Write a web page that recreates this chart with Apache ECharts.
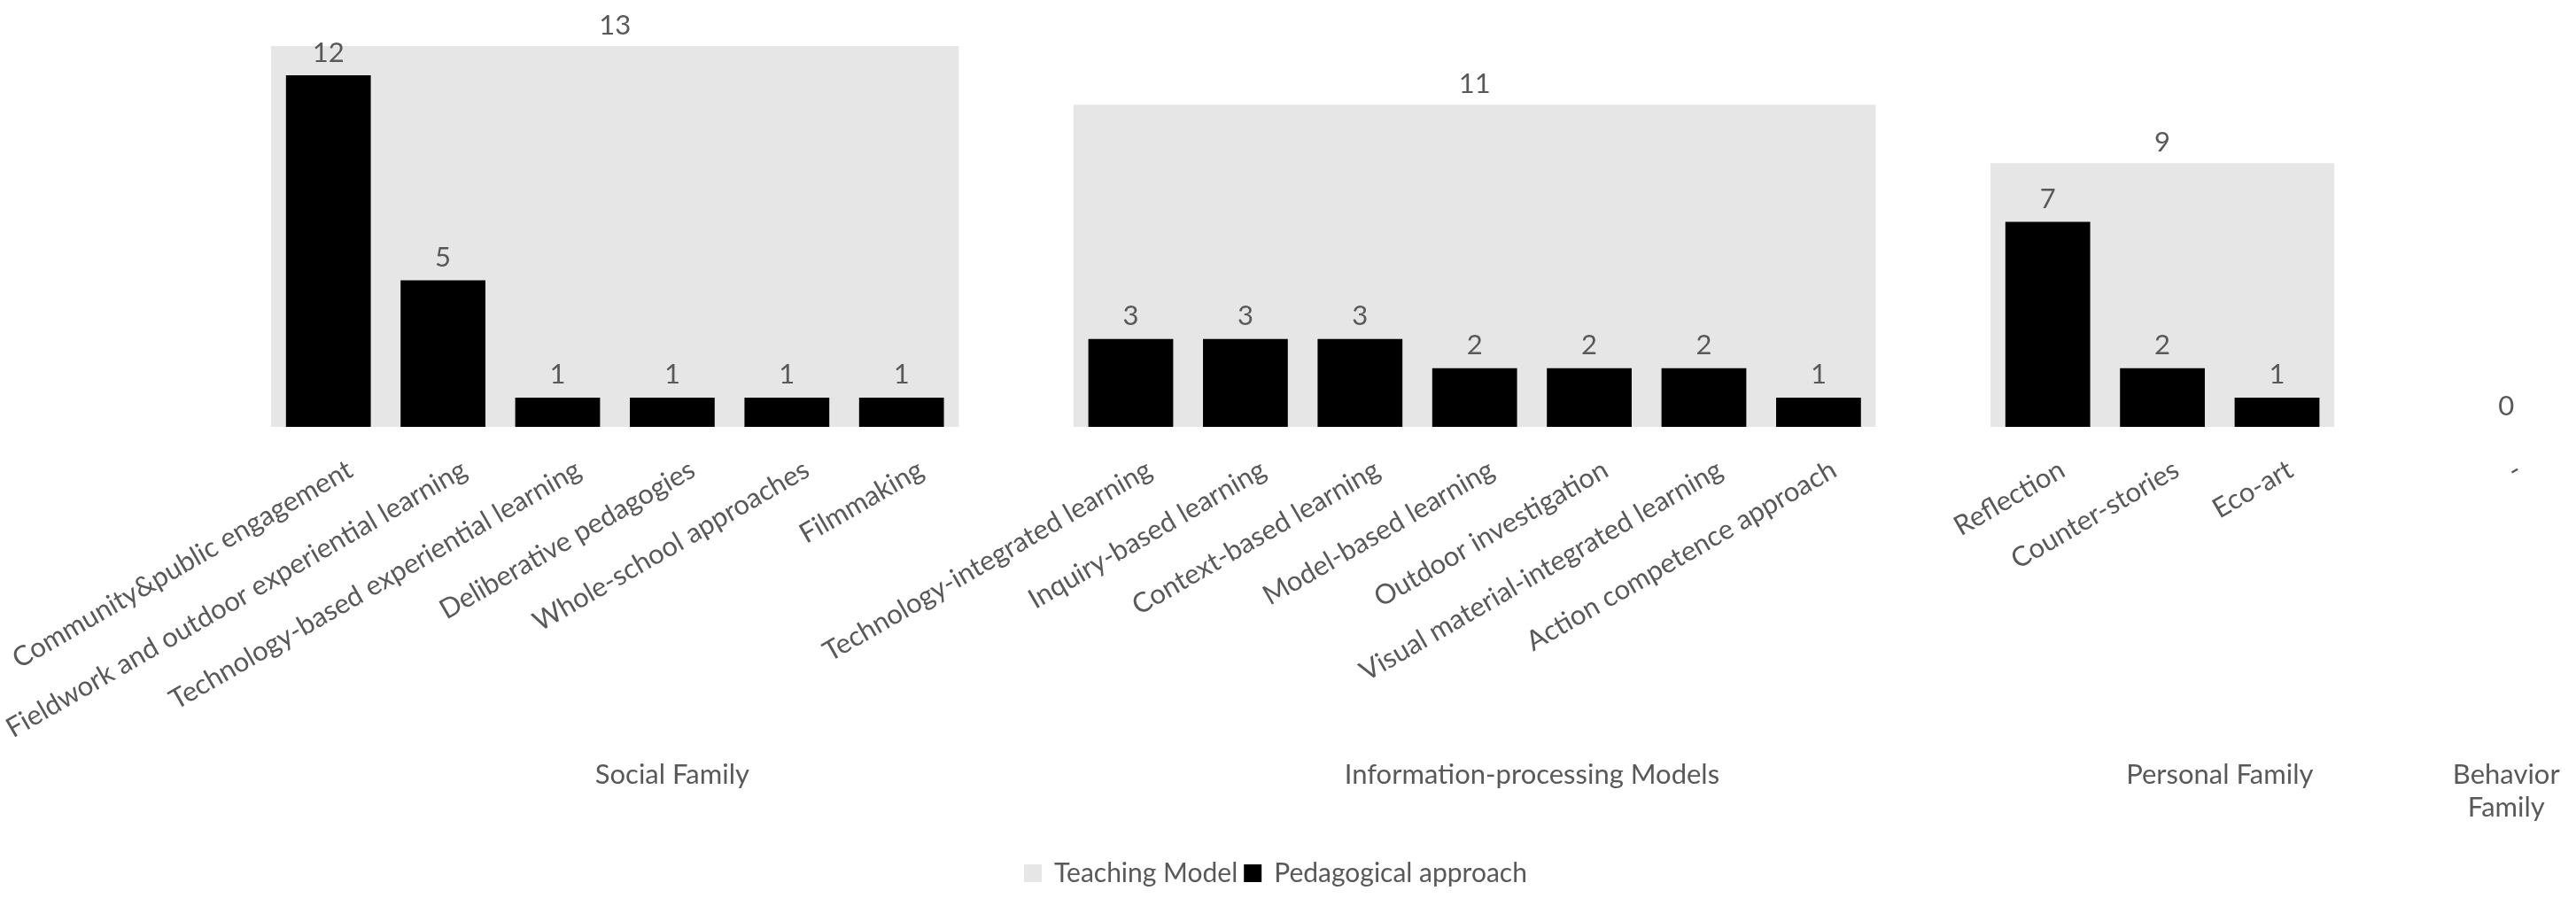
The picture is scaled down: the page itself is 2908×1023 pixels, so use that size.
<!DOCTYPE html>
<html lang="en">
<head>
<meta charset="UTF-8">
<title>Teaching models and pedagogical approaches</title>
<script src="https://cdn.jsdelivr.net/npm/echarts/dist/echarts.min.js"></script>
<style>
    html, body { margin: 0; padding: 0; background: #fff; }
    #chart { width: 2908px; height: 1023px; }
</style>
</head>
<body>
<div id="chart"></div>
<script>
    // families (teaching models) and their totals
    var families = ['Social Family', 'Information-processing Models', 'Personal Family', 'Behavior\nFamily'];
    var familyTotals = [13, 11, 9, 0];

    // pedagogical approaches inside each family
    var approachNames = [
        ['Community&public engagement', 'Fieldwork and outdoor experiential learning', 'Technology-based experiential learning',
         'Deliberative pedagogies', 'Whole-school approaches', 'Filmmaking'],
        ['Technology-integrated learning', 'Inquiry-based learning', 'Context-based learning', 'Model-based learning',
         'Outdoor investigation', 'Visual material-integrated learning', 'Action competence approach'],
        ['Reflection', 'Counter-stories', 'Eco-art'],
        ['-']
    ];
    var approachCounts = [
        [12, 5, 1, 1, 1, 1],
        [3, 3, 3, 2, 2, 2, 1],
        [7, 2, 1],
        ['-']
    ];

    var textGray = '#595959';
    var fontName = 'Lato';
    var fontSize = 31;

    // flatten into one category axis, with an empty slot after each family
    var categories = [], counts = [], blocks = [], familyCenters = [];
    var pos = 0;
    for (var f = 0; f < families.length; f++) {
        var n = approachNames[f].length;
        blocks.push([pos, pos + n, familyTotals[f]]);
        for (var i = 0; i < n; i++) {
            categories.push(approachNames[f][i]);
            counts.push(approachCounts[f][i]);
        }
        var span = n;
        if (f < families.length - 1) {
            categories.push('');
            counts.push('-');
            span++;
        }
        familyCenters.push(pos + span / 2);
        pos += span;
    }

    var chart = echarts.init(document.getElementById('chart'));

    var plotLeft = 306, plotWidth = 2588;

    var option = {
        animation: false,
        textStyle: { fontFamily: fontName },
        grid: [
            { left: plotLeft, width: plotWidth, top: 52, bottom: 541 },
            // same grid nudged right, only carries the slanted labels
            { left: plotLeft + 22, width: plotWidth, top: 52, bottom: 541 }
        ],
        xAxis: [
            {
                type: 'category',
                gridIndex: 0,
                data: categories,
                axisLine: { show: false },
                axisTick: { show: false },
                axisLabel: { show: false }
            },
            {
                // hidden value axis used for the family blocks and family names
                type: 'value',
                gridIndex: 0,
                position: 'bottom',
                min: 0,
                max: categories.length,
                interval: 0.5,
                axisLine: { show: false },
                axisTick: { show: false },
                splitLine: { show: false },
                axisLabel: {
                    margin: 374, color: textGray, fontFamily: fontName, fontSize: fontSize, lineHeight: 37,
                    formatter: function (v) {
                        var k = familyCenters.indexOf(v);
                        return k < 0 ? '' : families[k];
                    }
                }
            },
            {
                type: 'category',
                gridIndex: 1,
                data: categories,
                axisLine: { show: false },
                axisTick: { show: false },
                axisLabel: {
                    interval: 0, rotate: 30, margin: 46,
                    color: textGray, fontFamily: fontName, fontSize: fontSize
                }
            }
        ],
        yAxis: [
            { type: 'value', gridIndex: 0, min: 0, max: 13, show: false },
            { type: 'value', gridIndex: 1, min: 0, max: 13, show: false }
        ],
        legend: {
            left: 1151, top: 966,
            icon: 'rect', itemWidth: 20, itemHeight: 20, itemGap: 7,
            textStyle: { color: textGray, fontFamily: fontName, fontSize: 30, padding: [0, 0, 0, 9] },
            data: ['Teaching Model', 'Pedagogical approach']
        },
        series: [
            {
                name: 'Teaching Model',
                type: 'custom',
                xAxisIndex: 1,
                yAxisIndex: 0,
                z: 1,
                itemStyle: { color: '#E7E6E6' },
                encode: { x: [0, 1], y: 2 },
                data: blocks,
                renderItem: function (params, api) {
                    var tl = api.coord([api.value(0), api.value(2)]);
                    var br = api.coord([api.value(1), 0]);
                    return {
                        type: 'rect',
                        shape: { x: tl[0], y: tl[1], width: br[0] - tl[0], height: br[1] - tl[1] },
                        style: { fill: '#E7E6E6' },
                        textContent: {
                            style: { text: String(api.value(2)), fill: textGray, font: fontSize + 'px ' + fontName }
                        },
                        textConfig: { position: 'top', distance: 8 }
                    };
                }
            },
            {
                name: 'Pedagogical approach',
                type: 'bar',
                xAxisIndex: 0,
                yAxisIndex: 0,
                z: 2,
                barWidth: '74%',
                itemStyle: { color: '#000000' },
                label: {
                    show: true, position: 'top', distance: 10,
                    color: textGray, fontFamily: fontName, fontSize: fontSize
                },
                data: counts
            }
        ]
    };

    chart.setOption(option);
</script>
</body>
</html>
